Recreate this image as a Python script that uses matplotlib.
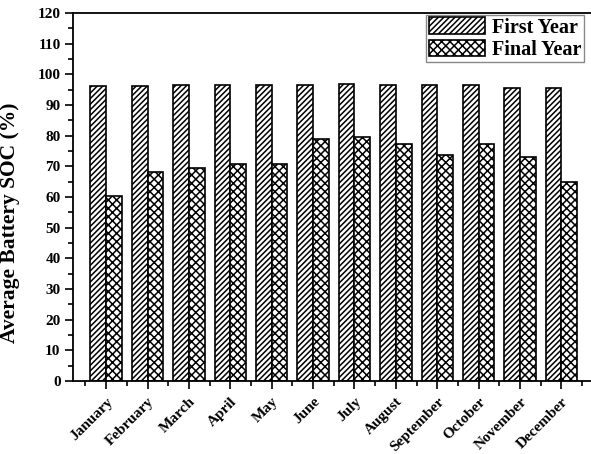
import matplotlib
matplotlib.use("Agg")
import matplotlib.pyplot as plt
import matplotlib.transforms as mtransforms
from matplotlib.ticker import MultipleLocator, FixedLocator
import numpy as np

months = ["January", "February", "March", "April", "May", "June", "July",
          "August", "September", "October", "November", "December"]
first_year = [96.2, 96.2, 96.4, 96.5, 96.6, 96.6, 96.7, 96.5, 96.4, 96.4, 95.7, 95.6]
final_year = [60.3, 68.3, 69.6, 70.8, 70.6, 79.0, 79.6, 77.3, 73.8, 77.3, 73.0, 64.9]
y_ticks = list(range(0, 121, 10))

plt.rcParams['font.family'] = ['Liberation Serif', 'DejaVu Serif']
plt.rcParams['font.weight'] = 'bold'
plt.rcParams['hatch.linewidth'] = 1.1

fig = plt.figure(figsize=(5.91, 4.54), dpi=100)
ax = fig.add_axes([73/591, (454-381)/454, 521.6/591, 368/454])

x = np.arange(len(months))
w = 0.38
ax.bar(x - w/2, first_year, width=w, color='white', edgecolor='black',
       linewidth=1.2, hatch='//////', label='First Year')
ax.bar(x + w/2, final_year, width=w, color='white', edgecolor='black',
       linewidth=1.2, hatch='xxxx', label='Final Year')

ax.set_xlim(-0.8, 11.8)
ax.set_ylim(0, 120)
ax.set_yticks(y_ticks)
ax.yaxis.set_minor_locator(MultipleLocator(5))
ax.set_xticks(x)
ax.xaxis.set_minor_locator(FixedLocator(np.arange(-0.5, 12, 1.0)))
ax.set_xticklabels(months, rotation=45, ha='right', va='top',
                   rotation_mode='anchor', fontsize=11, fontweight='bold')
for lab in ax.get_yticklabels():
    lab.set_fontsize(11)
    lab.set_fontweight('bold')

offset = mtransforms.ScaledTranslation(4/100, 0, fig.dpi_scale_trans)
for lab in ax.get_xticklabels():
    lab.set_transform(lab.get_transform() + offset)

ax.tick_params(axis='both', which='major', direction='out', length=6, width=1.2)
ax.tick_params(axis='both', which='minor', direction='out', length=3.5, width=1.2)
ax.tick_params(axis='x', which='major', pad=4)
ax.tick_params(axis='y', which='major', pad=3)

for s in ['left', 'bottom', 'top']:
    ax.spines[s].set_linewidth(1.3)
ax.spines['right'].set_visible(False)

ax.set_ylabel('Average Battery SOC (%)', fontsize=15.5, fontweight='bold')
ax.yaxis.set_label_coords(-0.102, 0.43)

leg = ax.legend(loc='upper right', bbox_to_anchor=(584/591, (454-15)/454),
                bbox_transform=fig.transFigure, fontsize=14.5, frameon=True,
                fancybox=False, edgecolor='#888888', framealpha=1,
                handlelength=2.8, handleheight=0.9, labelspacing=0.1,
                borderpad=0.12, handletextpad=0.35, borderaxespad=0)
leg.get_frame().set_linewidth(1.0)

fig.savefig('out.png', dpi=100)
